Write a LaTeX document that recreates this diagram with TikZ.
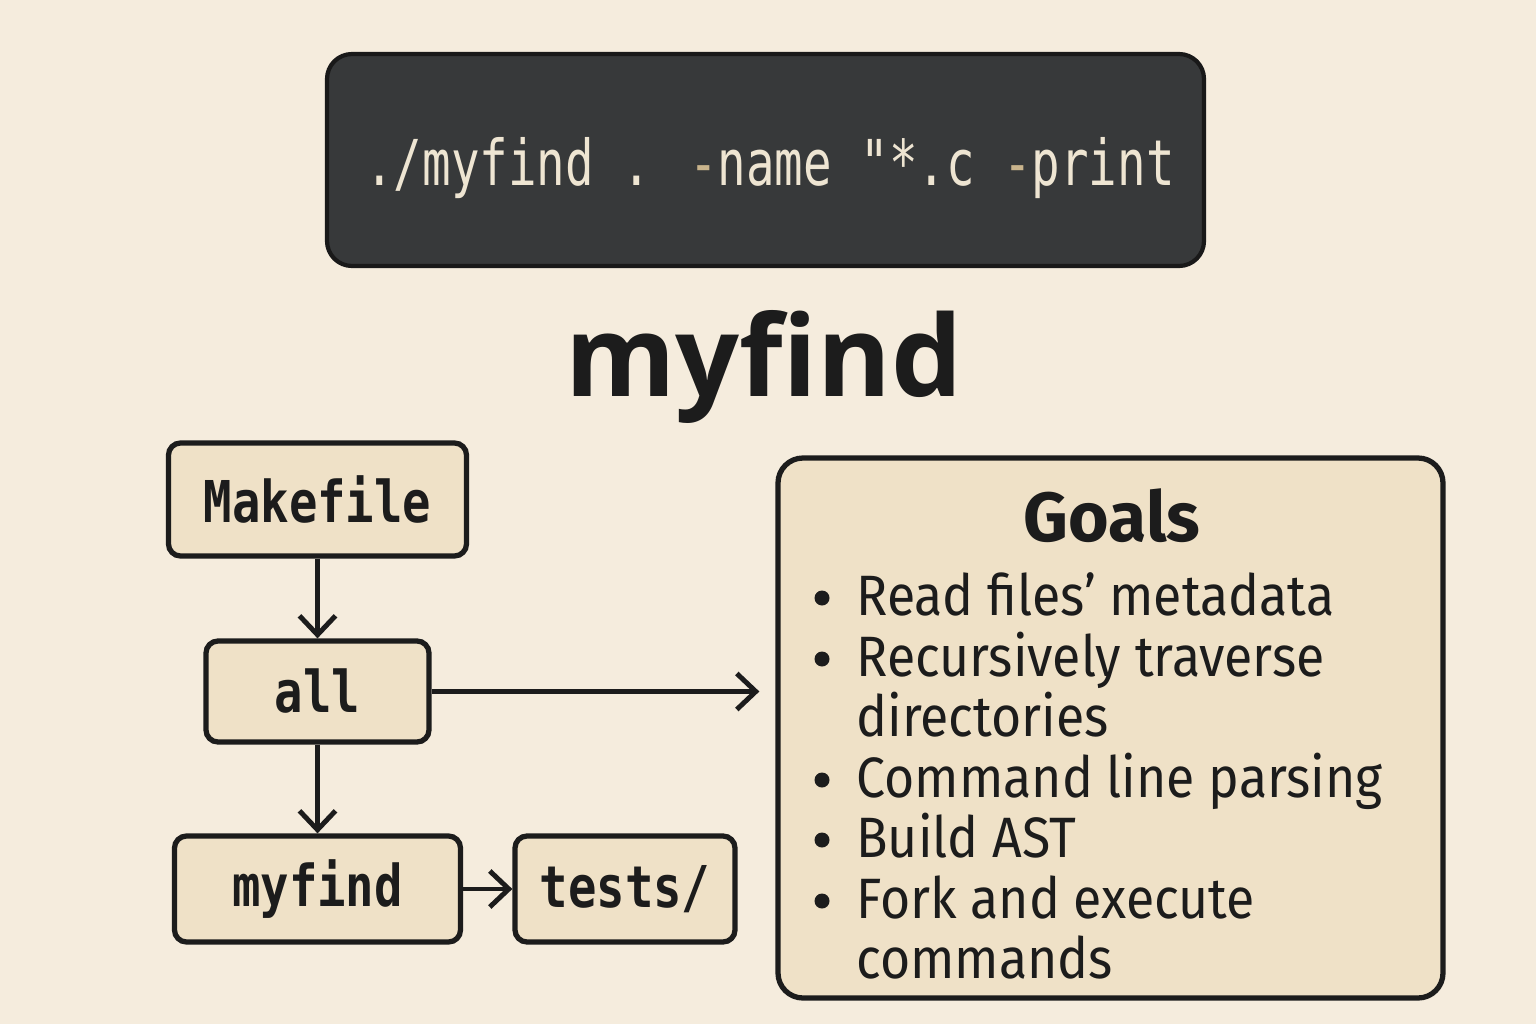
\documentclass[tikz,border=0pt]{standalone}
\usepackage{fontspec}
\usepackage{xcolor}
\usepackage{tikz}
\usetikzlibrary{
	arrows.meta,   %arrow tips
	positioning,
	calc
}
\setmainfont{Fira Sans}
\newfontfamily\titlefont{Open Sans}
\newfontfamily\itemfont[FakeStretch=0.91]{Fira Sans}
\newfontfamily\termfont[FakeStretch=0.75]{DejaVu Sans Mono}
\newfontfamily\filefont[FakeStretch=0.82]{DejaVu Sans Mono}

\definecolor{paper}{HTML}{F5ECDD}
\definecolor{boxfill}{HTML}{EFE1C7}
\definecolor{termbg}{HTML}{37393A}
\definecolor{termtxt}{HTML}{EEE5D2}
\definecolor{dashtan}{HTML}{C9B48C}
\definecolor{ink}{HTML}{1C1C1C}

\newcommand{\tdash}{{\color{dashtan}-}}

\tikzset{
	every picture/.style={
		>={Straight Barb[length=1.9mm,width=3.6mm]},
		line width=1.4pt
}}
\tikzset{filebox/.style={draw=ink,line width=1.5pt,fill=boxfill,
		rounded corners=1.2mm,inner sep=0pt,text=ink,
		font=\filefont\bfseries\fontsize{16.4}{18}\selectfont}}
\tikzset{goalbox/.style={draw=ink,line width=1.5pt,fill=boxfill,
		rounded corners=2.5mm,inner sep=0pt}}
\tikzset{termbox/.style={draw=black!90,line width=1.2pt,fill=termbg,
		rounded corners=2.5mm,inner sep=0pt}}
\tikzset{goalitem/.style={anchor=base west,inner sep=0pt,text=ink,
		font=\itemfont\fontsize{16.2}{18}\selectfont}}
\tikzset{goaldot/.style={circle,fill=ink,minimum size=1.5mm,inner sep=0pt}}

\begin{document}
\begin{tikzpicture}
\def\W{15.36}%picture width
\def\H{10.24}%picture height
\def\cx{3.175}%column of the build boxes

%background
\fill[paper] (0,0) rectangle (\W,\H);
\useasboundingbox (0,0) rectangle (\W,\H);

%command line
\node (term) [termbox,minimum width=8.77cm,minimum height=2.12cm] at (7.655,8.64) {};
\node (cmd) [anchor=base,inner sep=0pt,text=termtxt,
	font=\termfont\fontsize{18}{20}\selectfont] at (7.70,8.38)
	{./myfind . \tdash name "*.c \tdash print};

%title
\node (title) [anchor=base,inner sep=0pt,text=ink,
	font=\titlefont\bfseries\fontsize{32}{36}\selectfont] at (7.64,6.27) {myfind};

%build boxes
\node (make) [filebox,minimum width=2.98cm,minimum height=1.13cm] at (\cx,5.245) {Makefile};
\node (all) [filebox,minimum width=2.23cm,minimum height=1.01cm] at (\cx,3.325) {all};
\node (bin) [filebox,minimum width=2.86cm,minimum height=1.06cm] at (\cx,1.35) {myfind};
\node (tests) [filebox,minimum width=2.20cm,minimum height=1.06cm] at (6.25,1.35) {tests/};

%goals
\node (goals) [goalbox,minimum width=6.65cm,minimum height=5.40cm] at (11.105,2.96) {};
\node (goalstitle) [anchor=base,inner sep=0pt,text=ink,
	font=\bfseries\fontsize{19.8}{22}\selectfont] at (11.12,4.83) {Goals};
\foreach \i/\yy/\txt in {1/4.09/Read files’ metadata,2/3.48/Recursively traverse,
	3/2.88/directories,4/2.27/Command line parsing,5/1.67/Build AST,
	6/1.06/Fork and execute,7/0.46/commands}
\node (item\i) [goalitem] at (8.54,\yy) {\txt};
\foreach \i/\yy in {1/4.09,2/3.48,4/2.27,5/1.67,6/1.06}
\node (dot\i) [goaldot] at (8.22,\yy+0.17) {};

%connectors
\draw[->,draw=ink] (make) -- (all);
\draw[->,draw=ink] (all) -- (bin);
\draw[->,draw=ink] (bin) -- (tests);
\draw[->,draw=ink,shorten >=1.6mm] (all.east) -- (all.east -| goals.west);

\end{tikzpicture}
\end{document}
